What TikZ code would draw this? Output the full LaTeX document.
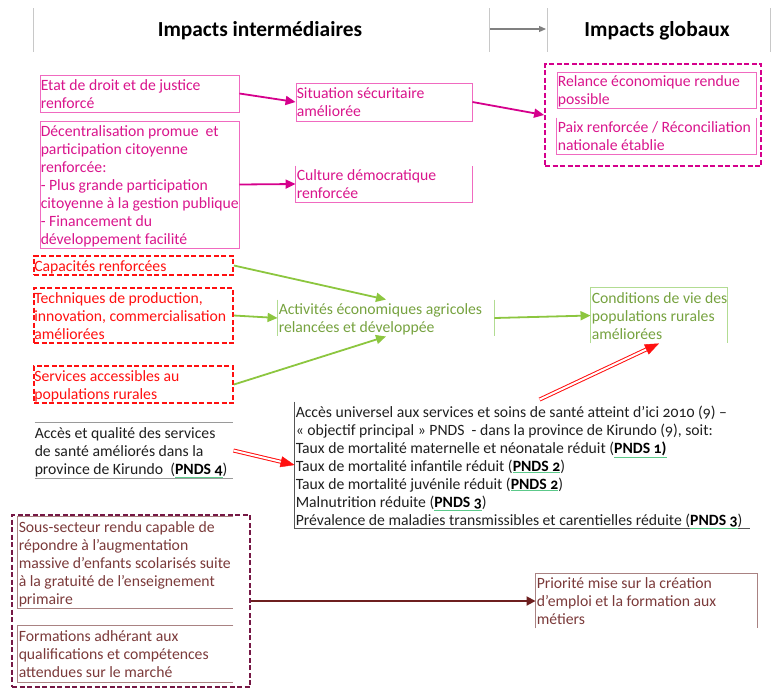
\documentclass[tikz,border=0pt]{standalone}
\usepackage{fontspec}
\setmainfont{Carlito}[Numbers=OldStyle]
\usetikzlibrary{arrows.meta,calc}
\definecolor{magtxt}{HTML}{D9158C}
\definecolor{magline}{HTML}{F06AC0}
\definecolor{magarrow}{HTML}{D5008C}
\definecolor{redc}{HTML}{FF1010}
\definecolor{grarrow}{HTML}{8CC63F}
\definecolor{grtxt}{HTML}{76A23F}
\definecolor{grline}{HTML}{B2DC92}
\definecolor{hdrline}{HTML}{C8C8C8}
\definecolor{hdrarrow}{HTML}{808080}
\definecolor{grayline}{HTML}{9A9A9A}
\definecolor{darkline}{HTML}{555555}
\definecolor{martxt}{HTML}{7B3A3A}
\definecolor{marline}{HTML}{A98282}
\definecolor{mardash}{HTML}{761845}
\definecolor{mararrow}{HTML}{6D1F1F}
\definecolor{pndsline}{HTML}{5CC98A}
\newcommand\fsz{\fontsize{15.7}{18}\selectfont}
\newcommand\pnds[1]{{\color{pndsline}\underline{\textcolor{black}{\textbf{PNDS~#1}}}}}
\begin{document}
\begin{tikzpicture}[x=1pt,y=-1pt,
  frm/.style={inner sep=0pt, line width=0.9pt},
  txt/.style={inner sep=0pt, anchor=west, align=left, font=\fsz,
    execute at begin node=\strut, execute at end node=\strut},
  hdr/.style={inner sep=0pt, font=\fontsize{21.4}{24}\selectfont\bfseries},
  magbox/.style={frm, draw=magline},
  magl/.style={draw=magline, line width=0.9pt},
  magdash/.style={frm, draw=magarrow, line width=1.8pt, dash pattern=on 5pt off 2.5pt},
  magarr/.style={draw=magarrow, line width=1.8pt, -{Triangle[length=10pt,width=9pt]}},
  reddash/.style={frm, draw=redc, line width=1.8pt, dash pattern=on 5pt off 2.5pt},
  grarr/.style={draw=grarrow, line width=1.8pt, -{Triangle[length=10pt,width=9pt]}},
  grl/.style={draw=grline, line width=0.9pt},
  grayl/.style={draw=grayline, line width=1.3pt},
  darkl/.style={draw=darkline, line width=0.9pt},
  marl/.style={draw=marline, line width=0.9pt},
  mardashed/.style={frm, draw=mardash, line width=2pt, dash pattern=on 5pt off 2.5pt},
  mararr/.style={draw=mararrow, line width=1.8pt, -{Triangle[length=9pt,width=9pt]}},
  dblred/.style={draw=redc, double=white, double distance=2pt, line width=1pt, shorten >=9pt},
  redhead/.style={draw=redc, fill=redc, -{Triangle[length=14pt,width=11pt]}},
  hline/.style={draw=hdrline, line width=0.8pt},
  harr/.style={draw=hdrarrow, line width=1.2pt, -{Triangle[length=7pt,width=6pt]}}
]
\useasboundingbox (0,0) rectangle (778,689);

% header
\draw[hline] (33,8) -- (33,52);
\draw[hline] (489,8) -- (489,52);
\draw[hline] (547,8) -- (547,52);
\draw[hline] (770,8) -- (770,52);
\coordinate (h1) at (490,29);
\coordinate (h2) at (546,29);
\draw[harr] (h1) -- (h2);
\node[hdr] (hint) at (260,31) {Impacts intermédiaires};
\node[hdr] (hglob) at (657,31) {Impacts globaux};

% magenta group
\node[magbox, draw, minimum width=199, minimum height=37] (etat) at (139.5,93.5) {};
\node[txt, text=magtxt] (etatT) at ($(etat.west)+(1,3)$) {Etat de droit et de justice\\renforcé};
\node[magbox, draw, minimum width=199, minimum height=127] (dec) at (139.5,184.5) {};
\node[txt, text=magtxt] (decT) at ($(dec.west)+(1,3)$) {Décentralisation promue\ \ et\\participation citoyenne\\renforcée:\\- Plus grande participation\\citoyenne à la gestion publique\\- Financement du\\développement facilité};
\node[magbox, draw, minimum width=176, minimum height=38] (sit) at (384,102) {};
\node[txt, text=magtxt] (sitT) at ($(sit.west)+(1,3)$) {Situation sécuritaire\\améliorée};
\node[frm, minimum width=176, minimum height=36] (cult) at (384,184) {};
\draw[magl] (cult.north west) -- (cult.south west) -- (cult.south east) -- (cult.north east);
\node[txt, text=magtxt] (cultT) at ($(cult.west)+(1,3)$) {Culture démocratique\\renforcée};
\node[magdash, draw, minimum width=216, minimum height=102] (glob) at (653,115) {};
\node[magbox, draw, minimum width=199, minimum height=36] (rel) at (656.5,90) {};
\node[txt, text=magtxt] (relT) at ($(rel.west)+(1,3)$) {Relance économique rendue\\possible};
\node[frm, minimum width=199, minimum height=36] (paix) at (656.5,136) {};
\draw[magl] (paix.north west) -- (paix.south west) -- (paix.south east) -- (paix.north east);
\node[txt, text=magtxt] (paixT) at ($(paix.west)+(1,3)$) {Paix renforcée / Réconciliation\\nationale établie};
\draw[magarr] (etat.east) -- (sit.west);
\draw[magarr] (dec.east) -- (cult.west);
\draw[magarr] (sit.east) -- (glob.west);

% red / green group
\node[reddash, draw, minimum width=199, minimum height=19] (cap) at (133.5,265.5) {};
\node[txt, text=redc] (capT) at ($(cap.west)+(1,2)$) {Capacités renforcées};
\node[reddash, draw, minimum width=199, minimum height=55] (tech) at (133.5,315.5) {};
\node[txt, text=redc] (techT) at ($(tech.west)+(1,3)$) {Techniques de production,\\innovation, commercialisation\\améliorées};
\node[reddash, draw, minimum width=199, minimum height=37] (serv) at (133.5,384.5) {};
\node[txt, text=redc] (servT) at ($(serv.west)+(1,3)$) {Services accessibles au\\populations rurales};
\node[frm, minimum width=216, minimum height=36] (act) at (386,318) {};
\draw[grl] (act.north west) -- (act.south west);
\draw[grl] (act.north east) -- (act.south east);
\node[txt, text=grtxt] (actT) at ($(act.west)+(1,3)$) {Activités économiques agricoles\\relancées et développée};
\node[frm, minimum width=136, minimum height=55] (cond) at (659,315.5) {};
\draw[grl] (cond.south west) -- (cond.north west) -- (cond.north east) -- (cond.south east);
\node[txt, text=grtxt] (condT) at ($(cond.west)+(1,3)$) {Conditions de vie des\\populations rurales\\améliorées};
\draw[grarr] (cap.east) -- (act.north);
\draw[grarr] (tech.east) -- (act.west);
\draw[grarr] (serv.east) -- (act.south);
\draw[grarr] (act.east) -- (cond.west);

% health group
\node[frm, minimum width=198, minimum height=55] (acc) at (134,450.5) {};
\draw[grayl] (acc.north west) -- (acc.north east);
\draw[grayl] (acc.south west) -- (acc.south east);
\node[txt, text=black!88] (accT) at ($(acc.west)+(0,3)$) {Accès et qualité des services\\de santé améliorés dans la\\province de Kirundo\ \ (\pnds{4})};
\node[frm, minimum width=455, minimum height=126] (health) at (522.5,465) {};
\draw[darkl] (health.north west) -- (health.south west) -- (health.south east);
\node[txt, text=black!88] (healthT) at ($(health.west)+(1,3)$) {Accès universel aux services et soins de santé atteint d’ici 2010 (9) –\\« objectif principal » PNDS\ \ - dans la province de Kirundo (9), soit:\\Taux de mortalité maternelle et néonatale réduit (\pnds{1)}\\Taux de mortalité infantile réduit (\pnds{2})\\Taux de mortalité juvénile réduit (\pnds{2})\\Malnutrition réduite (\pnds{3})\\Prévalence de maladies transmissibles et carentielles réduite (\pnds{3})};
\coordinate (hs) at ($(health.north west)+(245,-2)$);
\draw[dblred] (hs) -- (cond.south);
\draw[redhead] ($(cond.south)!14pt!(hs)$) -- (cond.south);
\draw[dblred] (acc.east) -- (health.west);
\draw[redhead] ($(health.west)!14pt!(acc.east)$) -- (health.west);

% education group
\node[mardashed, draw, minimum width=238, minimum height=172] (edu) at (131,601) {};
\node[frm, minimum width=215, minimum height=91] (sous) at (125.5,562.5) {};
\draw[marl] (sous.north east) -- (sous.north west) -- (sous.south west) -- (sous.south east);
\node[txt, text=martxt] (sousT) at ($(sous.west)+(1,3)$) {Sous-secteur rendu capable de\\répondre à l’augmentation\\massive d’enfants scolarisés suite\\à la gratuité de l’enseignement\\primaire};
\node[frm, minimum width=215, minimum height=56] (form) at (125.5,654) {};
\draw[marl] (form.north east) -- (form.north west) -- (form.south west) -- (form.south east);
\node[txt, text=martxt] (formT) at ($(form.west)+(1,3)$) {Formations adhérant aux\\qualifications et compétences\\attendues sur le marché};
\node[frm, minimum width=221, minimum height=54] (prio) at (646.5,601) {};
\draw[marl] (prio.south west) -- (prio.north west) -- (prio.north east) -- (prio.south east);
\node[txt, text=martxt] (prioT) at ($(prio.west)+(1,3)$) {Priorité mise sur la création\\d’emploi et la formation aux\\métiers};
\draw[mararr] (edu.east) -- (prio.west);
\end{tikzpicture}
\end{document}
